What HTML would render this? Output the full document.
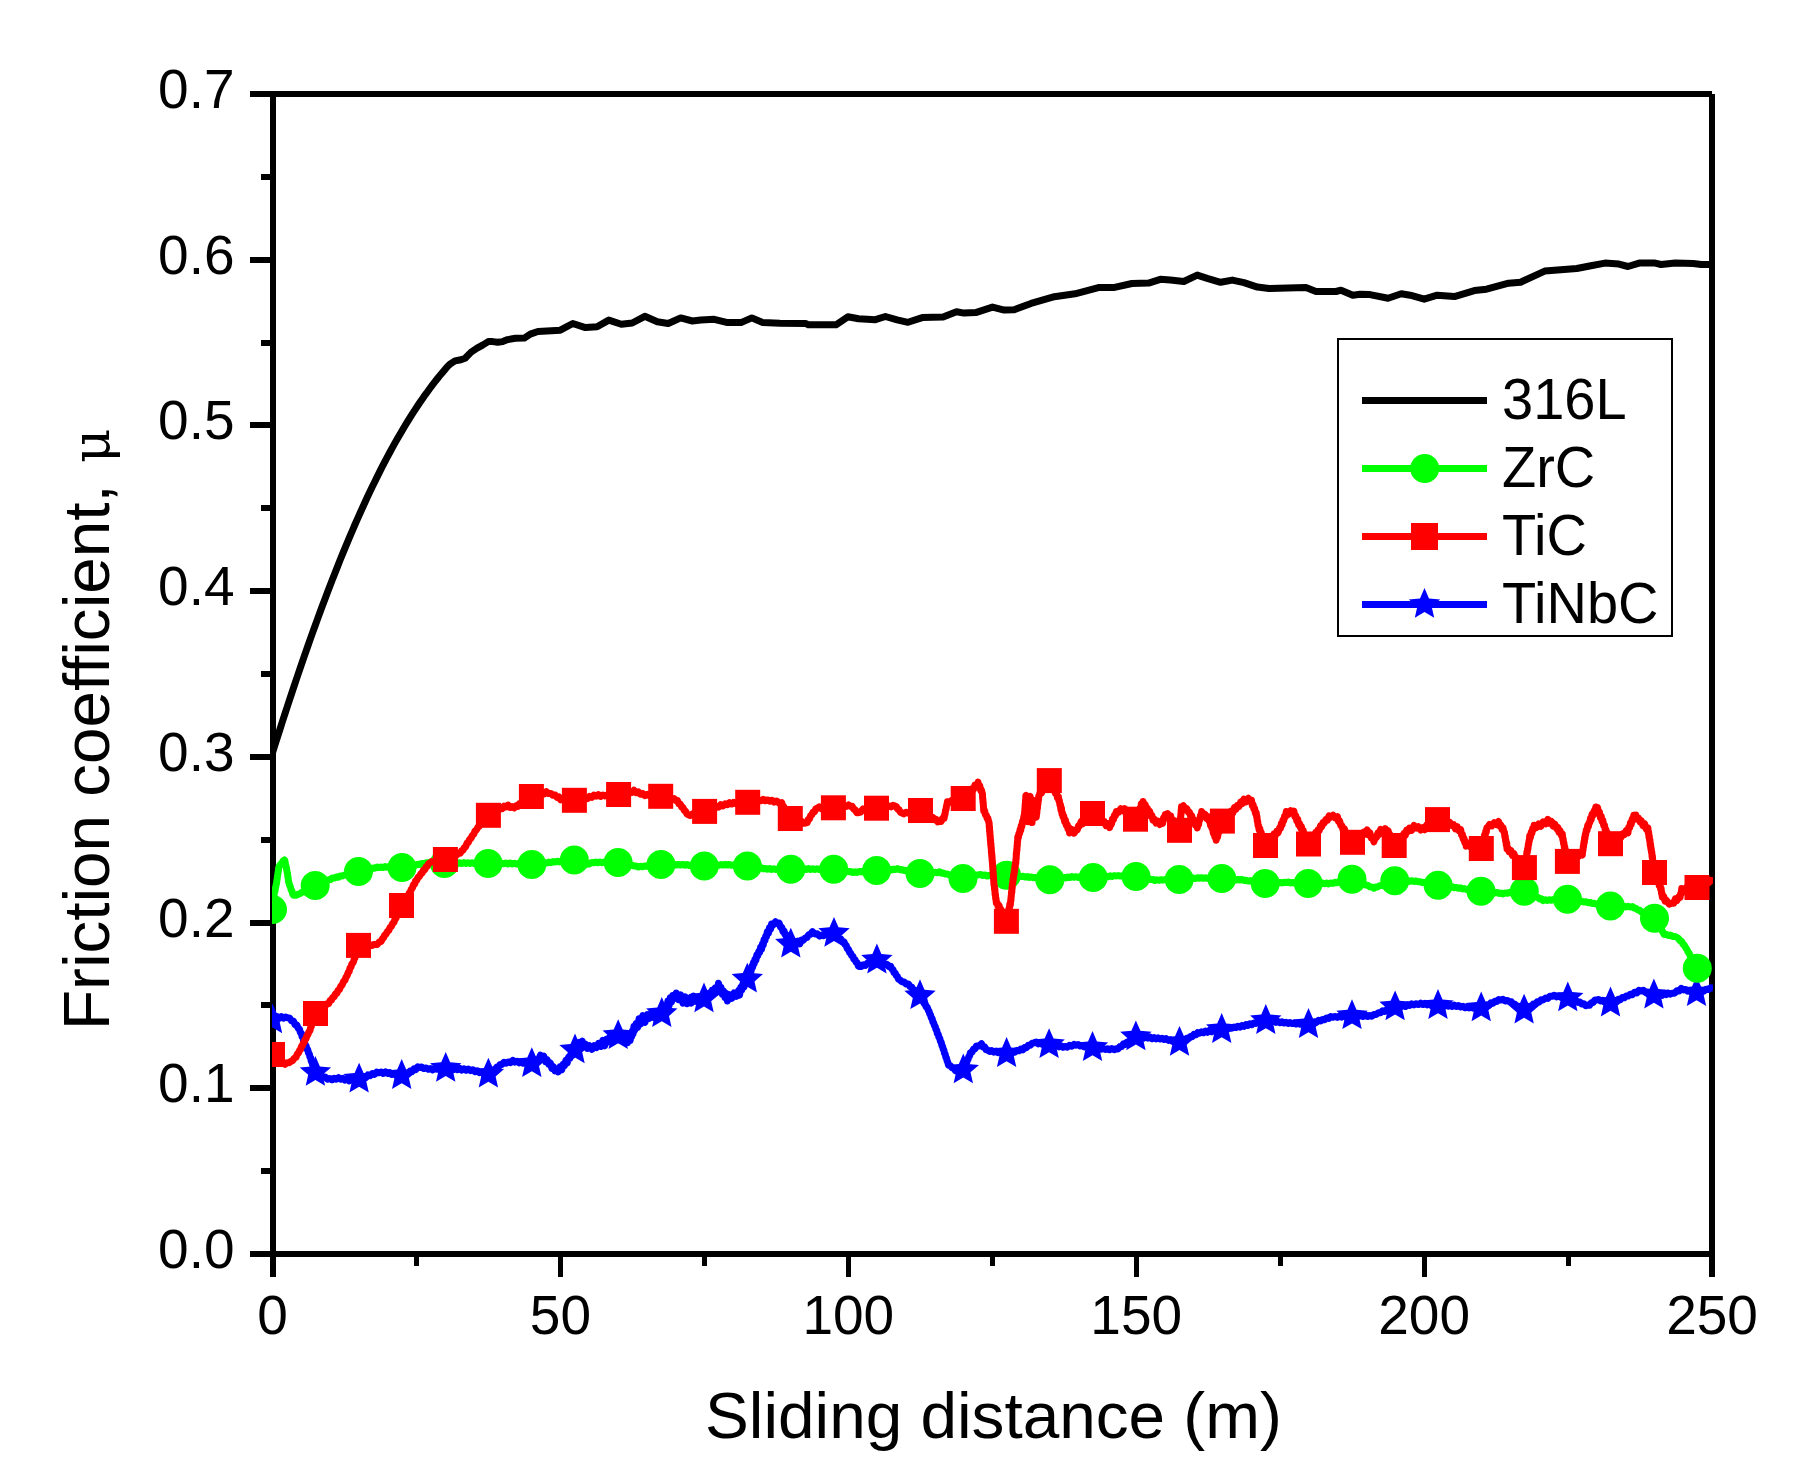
<!DOCTYPE html><html><head><meta charset="utf-8"><title>Friction coefficient vs sliding distance</title>
<style>html,body{margin:0;padding:0;background:#fff;}svg{display:block;}</style></head><body>
<svg width="1793" height="1484" viewBox="0 0 1793 1484">
<rect x="0" y="0" width="1793" height="1484" fill="#fff"/>
<defs><clipPath id="pc"><rect x="272" y="90" width="1441" height="1168"/></clipPath></defs>
<g fill="#000" shape-rendering="crispEdges">
<rect x="270" y="91" width="6" height="1186"/>
<rect x="250" y="91" width="1462" height="6"/>
<rect x="1709" y="94" width="6" height="1163"/>
<rect x="250" y="1251" width="1465" height="6"/>
<rect x="261" y="1168" width="11" height="6"/>
<rect x="250" y="1085" width="22" height="6"/>
<rect x="261" y="1002" width="11" height="6"/>
<rect x="250" y="920" width="22" height="6"/>
<rect x="261" y="837" width="11" height="6"/>
<rect x="250" y="754" width="22" height="6"/>
<rect x="261" y="671" width="11" height="6"/>
<rect x="250" y="588" width="22" height="6"/>
<rect x="261" y="505" width="11" height="6"/>
<rect x="250" y="422" width="22" height="6"/>
<rect x="261" y="340" width="11" height="6"/>
<rect x="250" y="257" width="22" height="6"/>
<rect x="261" y="174" width="11" height="6"/>
<rect x="414" y="1255" width="5" height="11"/>
<rect x="558" y="1255" width="5" height="22"/>
<rect x="702" y="1255" width="5" height="11"/>
<rect x="846" y="1255" width="5" height="22"/>
<rect x="990" y="1255" width="5" height="11"/>
<rect x="1134" y="1255" width="5" height="22"/>
<rect x="1278" y="1255" width="5" height="11"/>
<rect x="1422" y="1255" width="5" height="22"/>
<rect x="1566" y="1255" width="5" height="11"/>
<rect x="1709" y="1255" width="6" height="22"/>
</g>
<g font-family="Liberation Sans, Arial, sans-serif" font-size="55" fill="#000">
<text transform="translate(234.5 1268) scale(1 1.026)" text-anchor="end">0.0</text>
<text transform="translate(234.5 1102) scale(1 1.026)" text-anchor="end">0.1</text>
<text transform="translate(234.5 937) scale(1 1.026)" text-anchor="end">0.2</text>
<text transform="translate(234.5 771) scale(1 1.026)" text-anchor="end">0.3</text>
<text transform="translate(234.5 605) scale(1 1.026)" text-anchor="end">0.4</text>
<text transform="translate(234.5 439) scale(1 1.026)" text-anchor="end">0.5</text>
<text transform="translate(234.5 274) scale(1 1.026)" text-anchor="end">0.6</text>
<text transform="translate(234.5 108) scale(1 1.026)" text-anchor="end">0.7</text>
<text transform="translate(272.5 1334) scale(1 1.026)" text-anchor="middle">0</text>
<text transform="translate(560.4 1334) scale(1 1.026)" text-anchor="middle">50</text>
<text transform="translate(848.3 1334) scale(1 1.026)" text-anchor="middle">100</text>
<text transform="translate(1136.2 1334) scale(1 1.026)" text-anchor="middle">150</text>
<text transform="translate(1424.1 1334) scale(1 1.026)" text-anchor="middle">200</text>
<text transform="translate(1712.0 1334) scale(1 1.026)" text-anchor="middle">250</text>
</g>
<text x="705" y="1438" font-family="Liberation Sans, Arial, sans-serif" font-size="65.7" fill="#000">Sliding distance (m)</text>
<text transform="translate(109 1030) rotate(-90)" font-family="Liberation Sans, Arial, sans-serif" font-size="65.6" fill="#000">Friction coefficient,</text>
<text transform="translate(109 463) rotate(-90)" font-family="DejaVu Serif, Liberation Serif, serif" font-size="53" fill="#000">μ</text>
<g clip-path="url(#pc)" fill="none" stroke-linejoin="round" stroke-linecap="butt">
<polyline stroke="#000" stroke-width="7" points="272.5,752.7 275.0,744.8 277.5,736.9 280.0,729.1 282.5,721.3 285.0,713.7 287.5,706.0 290.0,698.4 292.5,690.9 295.0,683.4 297.5,676.0 300.0,668.7 302.5,661.4 305.0,654.2 307.5,647.0 310.0,639.9 312.5,632.9 315.0,626.0 317.5,619.1 320.0,612.3 322.5,605.5 325.0,598.9 327.5,592.2 330.0,585.7 332.5,579.3 335.0,572.9 337.5,566.6 340.0,560.3 342.5,554.2 345.0,548.1 347.5,542.1 350.0,536.1 352.5,530.3 355.0,524.5 357.5,518.8 360.0,513.2 362.5,507.7 365.0,502.2 367.5,496.8 370.0,491.5 372.5,486.3 375.0,481.2 377.5,476.1 380.0,471.1 382.5,466.2 385.0,461.4 387.5,456.7 390.0,452.0 392.5,447.4 395.0,442.9 397.5,438.5 400.0,434.2 402.5,429.9 405.0,425.7 407.5,421.6 410.0,417.6 412.5,413.7 415.0,409.8 417.5,406.0 420.0,402.3 422.5,398.7 425.0,395.1 427.5,391.7 430.0,388.3 432.5,384.9 435.0,381.7 437.5,378.5 440.0,375.4 442.5,372.4 445.0,369.4 447.5,366.5 450.0,364.2 455.0,360.9 461.0,359.7 465.1,358.2 471.1,352.1 477.1,348.1 482.6,345.1 488.2,341.6 492.7,341.6 497.7,342.3 502.7,341.6 507.7,339.6 515.3,338.3 524.3,338.1 530.3,334.1 537.9,331.5 546.9,331.0 560.3,330.2 572.8,323.5 585.4,327.6 597.1,326.8 608.8,320.1 621.3,324.3 632.2,323.0 644.8,316.3 657.3,321.8 668.2,323.5 680.7,317.9 692.4,321.0 700.8,320.1 714.2,319.3 727.6,322.6 741.0,322.6 751.8,317.9 762.7,322.6 780.0,323.2 805.9,323.5 808.4,324.8 836.0,324.8 847.8,316.8 858.6,318.8 875.4,319.7 885.4,316.5 897.1,319.8 908.0,322.3 922.2,317.6 943.1,317.1 956.5,311.8 964.0,313.1 975.7,312.6 992.5,307.1 1004.2,310.1 1014.2,309.8 1031.0,303.4 1054.4,296.7 1075.0,293.8 1098.4,287.6 1113.5,287.6 1131.9,283.5 1148.6,283.1 1160.3,279.3 1170.4,280.1 1183.8,281.5 1197.2,275.1 1207.2,278.4 1220.6,282.3 1232.3,280.1 1244.0,282.6 1257.4,287.1 1269.1,288.5 1287.5,288.1 1305.9,287.6 1316.0,291.5 1336.0,291.5 1341.0,290.2 1352.8,295.2 1360.0,294.2 1370.0,294.6 1388.1,298.2 1401.2,293.8 1410.2,295.2 1424.2,299.2 1437.3,295.2 1454.4,296.6 1474.4,290.6 1486.5,289.2 1508.6,283.2 1520.6,282.2 1544.7,271.1 1560.8,269.7 1576.8,268.5 1590.9,265.7 1604.9,263.1 1619.0,264.1 1628.0,266.5 1639.1,263.1 1655.1,263.1 1661.1,264.5 1675.2,263.1 1693.3,263.5 1701.3,264.5 1713.0,264.5"/>
<polyline stroke="#00f" stroke-width="7" points="272.5,1019.9 274.9,1019.2 277.2,1016.7 279.3,1018.0 281.3,1016.6 283.4,1018.2 285.4,1017.0 287.5,1017.8 289.5,1017.9 291.5,1020.8 293.5,1021.2 295.1,1024.7 296.8,1025.0 298.4,1028.6 299.4,1029.0 300.4,1032.6 301.4,1033.3 302.1,1036.7 302.9,1037.1 303.6,1040.9 304.4,1041.5 305.2,1045.1 306.1,1045.9 306.9,1049.3 307.7,1049.6 308.5,1053.0 309.3,1054.0 310.0,1057.3 310.7,1057.7 311.3,1061.3 312.0,1061.5 312.7,1065.3 313.4,1065.5 314.0,1069.1 314.7,1069.6 315.4,1073.2 317.2,1072.6 319.1,1075.5 320.9,1075.1 322.8,1077.1 325.1,1076.9 327.5,1079.3 329.8,1078.5 332.0,1079.8 334.2,1078.2 336.4,1079.2 338.6,1077.7 340.7,1079.3 342.8,1078.3 344.9,1080.1 347.0,1078.8 349.1,1080.9 351.1,1079.0 353.1,1080.7 355.1,1078.6 357.1,1080.2 359.1,1078.7 361.3,1079.2 363.5,1076.5 365.7,1077.5 367.9,1074.9 370.1,1075.6 372.3,1073.6 374.5,1074.4 376.7,1072.1 378.9,1072.8 381.1,1072.0 383.3,1073.5 385.5,1071.8 387.7,1073.5 389.7,1072.5 391.7,1074.4 393.7,1073.6 395.7,1075.1 397.7,1074.0 399.7,1076.2 401.7,1075.2 403.9,1075.4 406.1,1073.2 408.3,1073.4 410.2,1071.1 412.0,1071.7 413.9,1068.8 415.8,1069.6 417.6,1066.9 419.5,1067.6 421.7,1067.0 423.9,1068.6 426.2,1067.9 428.4,1069.3 430.6,1068.6 432.8,1069.9 434.9,1068.5 437.1,1069.3 439.2,1067.8 441.4,1069.2 443.5,1067.5 445.7,1069.3 447.7,1067.9 449.7,1069.3 451.7,1068.0 453.7,1069.6 455.7,1068.1 457.7,1069.7 459.7,1068.3 461.7,1070.2 463.9,1068.7 466.2,1070.3 468.4,1069.0 470.7,1070.6 472.9,1069.7 475.1,1071.8 477.3,1070.7 479.5,1072.7 481.8,1072.1 484.0,1073.7 486.2,1072.9 488.4,1074.6 490.1,1072.1 491.8,1072.4 493.4,1069.8 495.1,1069.7 496.8,1067.0 498.4,1067.1 500.1,1064.4 501.8,1064.5 504.0,1062.4 506.2,1063.2 508.5,1061.9 510.7,1062.7 512.9,1060.4 515.0,1062.2 517.1,1061.2 519.2,1062.9 521.3,1061.8 523.4,1063.3 525.5,1062.3 527.6,1063.8 529.7,1062.7 531.8,1064.3 533.5,1061.8 535.3,1062.0 537.0,1059.4 538.7,1059.2 540.5,1055.1 542.2,1057.4 543.8,1056.3 545.4,1061.6 547.1,1059.8 548.7,1064.2 550.3,1063.0 551.8,1068.3 553.3,1066.6 554.9,1070.8 556.4,1069.3 558.2,1071.9 560.0,1066.9 561.8,1069.7 563.1,1064.4 564.5,1065.5 565.9,1060.3 567.2,1062.9 568.5,1057.2 569.8,1058.4 571.1,1054.1 572.4,1055.3 573.7,1050.5 575.0,1052.2 576.4,1045.7 577.8,1047.2 579.2,1042.4 580.6,1044.0 582.3,1041.2 584.0,1046.7 585.7,1044.3 587.4,1048.4 589.6,1045.8 591.9,1049.4 594.1,1045.8 596.4,1047.6 598.6,1043.3 600.9,1046.4 602.8,1040.3 604.7,1045.8 606.7,1039.1 608.6,1041.8 610.5,1035.4 612.4,1042.1 614.4,1033.5 616.3,1039.2 618.2,1031.8 620.1,1040.3 622.0,1035.1 623.9,1041.4 625.7,1035.2 627.6,1042.7 629.5,1037.5 630.2,1040.7 631.0,1034.1 631.7,1036.7 632.4,1030.9 633.1,1033.8 633.9,1026.6 634.6,1030.5 636.1,1023.6 637.6,1027.4 639.1,1018.7 640.6,1024.1 642.8,1015.6 645.0,1022.3 647.3,1014.6 649.5,1018.3 651.7,1012.4 653.7,1017.4 655.7,1012.6 657.8,1017.7 659.8,1011.2 661.8,1016.2 663.0,1008.0 664.2,1013.1 665.5,1005.8 666.7,1008.7 667.9,1001.0 669.1,1005.7 670.3,997.7 671.6,1001.8 672.8,995.5 674.0,998.7 676.2,993.1 678.4,999.6 680.7,995.0 682.9,1003.2 685.1,996.8 687.2,1003.7 689.3,998.4 691.4,1003.0 693.5,996.1 695.6,1001.3 697.7,997.2 699.8,1001.5 701.9,996.3 704.0,1001.6 705.6,994.9 707.2,999.8 708.8,993.4 710.4,995.4 712.1,990.4 713.7,992.8 715.3,987.8 716.9,992.2 718.5,983.2 719.8,990.3 721.0,987.3 722.3,994.0 723.6,990.9 724.9,997.3 726.1,993.3 727.4,1001.0 729.6,994.7 731.8,998.3 734.1,993.0 736.3,996.4 738.5,990.7 739.6,995.1 740.7,987.5 741.8,990.0 742.9,984.4 744.0,987.1 745.1,981.3 746.2,982.7 747.3,977.9 748.1,979.1 748.8,973.9 749.6,974.9 750.3,970.5 751.1,971.3 751.9,966.4 752.6,967.5 753.4,962.7 754.1,963.8 754.9,959.5 755.9,960.1 756.8,955.1 757.8,955.7 758.7,951.6 759.7,952.3 760.6,947.3 761.6,949.1 762.4,944.0 763.2,945.2 764.0,939.7 764.9,940.6 765.7,936.2 766.5,936.6 767.3,931.9 768.4,933.3 769.5,927.8 770.5,929.4 771.6,924.0 772.7,925.3 775.4,921.8 778.0,923.9 779.2,923.2 780.5,927.3 781.8,927.3 783.0,931.7 784.0,930.9 785.0,934.5 785.9,934.4 786.9,939.0 787.9,937.9 788.8,941.5 789.8,940.6 790.8,945.1 793.2,942.0 795.6,945.0 798.0,941.2 799.8,943.8 801.5,940.1 803.2,940.3 805.0,938.1 806.9,937.5 808.8,934.6 810.6,934.3 812.5,931.6 814.8,933.9 817.2,933.8 819.5,936.1 821.6,935.0 823.6,935.7 825.7,934.1 827.8,934.9 829.9,933.7 831.9,934.2 834.0,932.8 835.7,935.6 837.3,935.9 839.0,938.4 840.7,938.9 842.3,941.4 844.0,941.9 845.1,944.6 846.2,945.5 847.3,948.7 848.4,949.3 849.5,952.3 850.6,953.1 851.7,955.8 852.8,956.2 853.9,959.2 855.0,959.6 856.2,962.4 857.3,962.9 858.4,966.0 859.5,966.5 861.4,966.5 863.4,964.7 865.3,965.4 867.2,963.3 869.2,963.7 871.1,961.7 873.0,962.0 875.0,960.4 876.9,960.5 878.9,960.5 880.8,962.5 882.8,962.6 884.8,964.6 886.8,964.2 888.7,966.4 890.7,966.2 891.8,969.1 892.9,969.5 894.0,972.5 895.2,973.1 896.3,975.6 897.4,976.5 898.5,979.1 899.6,979.7 901.8,981.7 904.0,982.0 906.3,984.0 908.5,984.0 910.1,986.7 911.8,987.1 913.4,990.0 915.1,990.4 916.7,993.2 918.4,993.5 920.0,996.5 921.0,997.0 922.0,999.8 923.1,1000.3 924.1,1003.5 925.1,1004.0 926.2,1006.9 927.2,1007.2 928.2,1010.2 929.0,1011.2 929.8,1014.0 930.5,1014.8 931.3,1018.0 932.1,1018.5 932.9,1022.0 933.6,1022.7 934.4,1025.5 935.2,1026.6 935.9,1029.4 936.7,1030.3 937.4,1033.7 938.2,1034.2 938.9,1037.3 939.7,1038.1 940.4,1041.3 941.2,1042.3 941.9,1045.5 942.6,1046.4 943.2,1049.2 943.9,1050.1 944.5,1053.3 945.2,1054.3 945.9,1057.4 946.5,1058.2 947.2,1061.1 947.8,1062.3 948.5,1065.3 950.3,1065.6 952.1,1067.9 953.8,1068.2 955.6,1070.9 957.4,1071.0 959.4,1071.6 961.3,1070.1 963.3,1070.5 964.1,1067.4 964.9,1066.7 965.7,1063.6 966.5,1063.5 967.2,1060.4 968.0,1059.8 968.8,1056.5 969.6,1056.0 970.4,1052.6 971.9,1052.2 973.4,1049.3 974.9,1049.1 976.4,1045.9 979.0,1046.1 981.5,1043.7 983.0,1046.9 984.5,1046.7 986.0,1049.6 987.5,1050.0 989.6,1051.4 991.7,1050.6 993.9,1052.2 996.0,1051.1 998.1,1052.8 1000.2,1052.1 1002.4,1053.6 1004.5,1052.5 1006.6,1054.1 1008.6,1052.2 1010.6,1053.2 1012.7,1051.5 1014.7,1052.3 1016.7,1050.4 1018.8,1050.8 1020.8,1049.0 1022.8,1049.9 1024.7,1047.4 1026.5,1047.7 1028.4,1045.2 1030.3,1045.3 1032.1,1043.2 1034.0,1042.9 1036.2,1042.1 1038.3,1043.9 1040.5,1042.8 1042.6,1044.5 1044.8,1043.5 1046.9,1044.9 1049.1,1044.1 1051.1,1045.8 1053.1,1044.9 1055.1,1046.2 1057.1,1045.4 1059.1,1046.9 1061.1,1045.9 1063.1,1047.3 1065.1,1046.4 1067.3,1047.2 1069.5,1045.3 1071.8,1046.2 1074.0,1044.4 1076.2,1045.2 1078.2,1044.6 1080.3,1045.9 1082.3,1045.4 1084.3,1047.0 1086.4,1045.8 1088.4,1047.4 1090.5,1046.8 1092.5,1048.2 1094.6,1047.1 1096.8,1048.9 1098.9,1047.5 1101.0,1049.2 1103.1,1048.3 1105.3,1049.5 1107.4,1048.7 1109.6,1049.8 1111.8,1048.5 1114.1,1049.7 1116.3,1048.7 1118.1,1048.9 1119.9,1046.6 1121.6,1046.6 1123.4,1043.9 1125.2,1044.5 1127.0,1041.9 1128.8,1042.0 1130.6,1039.6 1132.3,1039.8 1134.1,1037.1 1135.9,1037.6 1137.9,1036.5 1139.9,1038.0 1142.0,1036.7 1144.0,1038.1 1146.0,1036.8 1148.0,1038.1 1150.1,1037.1 1152.1,1038.7 1154.1,1037.5 1156.1,1038.9 1158.1,1037.9 1160.1,1039.1 1162.1,1038.2 1164.1,1039.4 1166.1,1038.6 1168.3,1040.4 1170.6,1039.7 1172.8,1041.5 1175.0,1040.5 1177.3,1042.7 1179.5,1042.0 1181.3,1042.3 1183.1,1039.9 1185.0,1040.1 1186.8,1038.2 1188.6,1038.4 1190.4,1036.6 1192.2,1036.8 1194.0,1034.3 1195.9,1034.8 1197.7,1032.6 1199.5,1033.2 1201.5,1031.8 1203.5,1032.8 1205.6,1031.0 1207.6,1032.3 1209.6,1030.4 1211.6,1031.7 1213.6,1030.1 1215.6,1031.2 1217.7,1029.3 1219.7,1030.7 1221.7,1029.0 1223.7,1030.0 1225.8,1028.3 1227.8,1029.0 1229.8,1027.8 1231.8,1028.3 1233.9,1027.1 1235.9,1027.6 1237.9,1026.2 1239.9,1027.2 1242.0,1025.5 1244.0,1026.4 1246.0,1024.6 1248.0,1025.4 1249.9,1023.8 1251.9,1024.7 1253.9,1022.9 1255.9,1023.4 1257.9,1021.6 1259.9,1022.8 1261.8,1021.0 1263.8,1021.6 1265.8,1020.0 1267.8,1021.5 1269.8,1020.5 1271.9,1021.6 1273.9,1021.0 1275.9,1022.4 1277.9,1021.4 1280.0,1022.7 1282.0,1021.8 1284.0,1023.0 1286.0,1022.2 1288.1,1023.4 1290.1,1022.6 1292.2,1023.6 1294.2,1023.0 1296.2,1024.0 1298.3,1023.1 1300.3,1024.3 1302.4,1023.7 1304.4,1024.9 1306.5,1023.8 1308.5,1025.3 1310.5,1023.5 1312.6,1023.8 1314.6,1022.0 1316.6,1022.2 1318.6,1020.3 1320.7,1020.9 1322.7,1019.4 1324.7,1019.7 1326.7,1017.9 1328.8,1018.4 1330.8,1016.5 1333.0,1017.3 1335.1,1016.4 1337.3,1017.4 1339.5,1016.0 1341.7,1017.2 1343.8,1015.7 1346.0,1017.0 1348.2,1015.5 1350.3,1016.4 1352.5,1015.3 1354.6,1016.6 1356.8,1015.1 1358.9,1016.3 1361.0,1015.4 1363.2,1016.5 1365.3,1014.9 1367.4,1016.5 1369.6,1015.4 1371.7,1016.2 1373.9,1014.5 1376.1,1014.5 1378.4,1012.8 1380.6,1012.7 1382.8,1010.7 1384.8,1011.5 1386.9,1009.4 1388.9,1010.0 1391.0,1007.8 1393.0,1008.4 1395.1,1006.0 1397.2,1007.5 1399.2,1006.0 1401.3,1006.6 1403.4,1005.1 1405.5,1006.4 1407.5,1004.8 1409.6,1005.5 1411.7,1003.9 1413.9,1004.9 1416.2,1003.7 1418.4,1004.6 1420.7,1003.1 1422.9,1004.5 1425.1,1003.4 1427.2,1004.9 1429.4,1003.7 1431.5,1005.6 1433.7,1004.4 1435.8,1006.2 1438.0,1005.0 1440.0,1006.2 1442.0,1005.2 1444.1,1006.4 1446.1,1005.1 1448.1,1006.2 1450.1,1005.3 1452.2,1006.5 1454.2,1005.1 1456.2,1006.5 1458.4,1005.5 1460.7,1007.0 1462.9,1006.3 1465.1,1007.7 1467.1,1006.8 1469.1,1007.9 1471.1,1006.6 1473.2,1008.2 1475.2,1007.2 1477.2,1008.2 1479.2,1007.1 1481.2,1008.7 1483.2,1006.3 1485.1,1007.1 1487.0,1004.8 1489.0,1005.3 1491.0,1002.8 1492.9,1003.3 1494.9,1001.3 1496.8,1001.4 1498.8,999.5 1500.7,1000.1 1502.9,999.3 1505.2,1001.0 1507.4,1000.4 1509.6,1001.8 1511.4,1001.8 1513.2,1004.1 1515.0,1004.3 1516.8,1006.2 1518.7,1006.2 1520.5,1008.7 1522.3,1008.7 1524.1,1010.7 1526.0,1008.2 1527.9,1008.5 1529.8,1006.2 1531.7,1006.4 1533.5,1003.9 1535.4,1004.3 1537.3,1001.7 1539.2,1002.0 1541.1,999.8 1543.3,999.9 1545.5,998.1 1547.8,998.4 1550.0,996.3 1552.2,996.2 1554.4,995.2 1556.7,996.9 1558.9,995.9 1561.1,997.5 1563.3,996.8 1565.6,998.2 1567.8,997.2 1569.8,999.5 1571.8,998.9 1573.8,1001.1 1575.8,1000.3 1577.8,1002.4 1579.8,1002.0 1581.8,1004.1 1583.8,1003.8 1585.8,1005.8 1587.8,1005.1 1589.6,1005.3 1591.4,1002.7 1593.1,1002.5 1594.9,999.9 1596.7,1000.0 1598.7,999.4 1600.6,1000.9 1602.6,1000.2 1604.6,1001.8 1606.6,1001.3 1608.5,1003.3 1610.5,1002.5 1612.5,1003.0 1614.4,1000.7 1616.4,1001.1 1618.3,999.2 1620.3,999.8 1622.3,997.5 1624.2,997.8 1626.2,996.0 1628.1,996.0 1630.1,994.3 1632.3,994.7 1634.5,992.2 1636.8,992.9 1639.0,990.3 1641.2,991.0 1643.3,990.2 1645.4,992.5 1647.6,992.1 1649.7,994.4 1651.8,993.5 1653.9,996.0 1656.0,994.3 1658.0,995.5 1660.1,994.0 1662.1,995.3 1664.2,993.4 1666.2,994.6 1668.3,993.1 1670.3,994.2 1672.4,993.2 1674.6,993.2 1676.8,990.8 1679.1,990.9 1681.3,988.4 1683.5,990.0 1685.6,989.4 1687.8,991.2 1690.0,990.6 1692.2,992.2 1694.3,991.4 1696.5,993.5 1698.4,991.6 1700.3,991.9 1702.2,990.4 1704.2,990.9 1706.1,989.3 1708.0,989.5 1710.5,987.8 1713.0,988.0"/>
<g fill="#00f" stroke="none"><polygon points="272.5,1003.4 277.0,1013.8 288.2,1014.8 279.7,1022.2 282.2,1033.2 272.5,1027.5 262.8,1033.2 265.3,1022.2 256.8,1014.8 268.0,1013.8"/><polygon points="315.4,1056.0 319.9,1066.4 331.1,1067.4 322.6,1074.8 325.1,1085.8 315.4,1080.1 305.7,1085.8 308.2,1074.8 299.7,1067.4 310.9,1066.4"/><polygon points="359.1,1062.7 363.6,1073.1 374.8,1074.1 366.3,1081.5 368.8,1092.5 359.1,1086.8 349.4,1092.5 351.9,1081.5 343.4,1074.1 354.6,1073.1"/><polygon points="401.7,1059.1 406.2,1069.5 417.4,1070.5 408.9,1077.9 411.4,1088.9 401.7,1083.2 392.0,1088.9 394.5,1077.9 386.0,1070.5 397.2,1069.5"/><polygon points="445.7,1051.9 450.2,1062.3 461.4,1063.3 452.9,1070.7 455.4,1081.7 445.7,1076.0 436.0,1081.7 438.5,1070.7 430.0,1063.3 441.2,1062.3"/><polygon points="488.4,1057.7 492.9,1068.1 504.1,1069.1 495.6,1076.5 498.1,1087.5 488.4,1081.8 478.7,1087.5 481.2,1076.5 472.7,1069.1 483.9,1068.1"/><polygon points="531.8,1047.2 536.3,1057.6 547.5,1058.6 539.0,1066.0 541.5,1077.0 531.8,1071.3 522.1,1077.0 524.6,1066.0 516.1,1058.6 527.3,1057.6"/><polygon points="575.0,1033.5 579.5,1043.9 590.7,1044.9 582.2,1052.3 584.7,1063.3 575.0,1057.6 565.3,1063.3 567.8,1052.3 559.3,1044.9 570.5,1043.9"/><polygon points="618.2,1019.2 622.7,1029.6 633.9,1030.6 625.4,1038.0 627.9,1049.0 618.2,1043.3 608.5,1049.0 611.0,1038.0 602.5,1030.6 613.7,1029.6"/><polygon points="661.8,997.1 666.3,1007.5 677.5,1008.5 669.0,1015.9 671.5,1026.9 661.8,1021.2 652.1,1026.9 654.6,1015.9 646.1,1008.5 657.3,1007.5"/><polygon points="704.0,982.5 708.5,992.9 719.7,993.9 711.2,1001.3 713.7,1012.3 704.0,1006.6 694.3,1012.3 696.8,1001.3 688.3,993.9 699.5,992.9"/><polygon points="747.3,962.7 751.8,973.1 763.0,974.1 754.5,981.5 757.0,992.5 747.3,986.8 737.6,992.5 740.1,981.5 731.6,974.1 742.8,973.1"/><polygon points="790.8,927.7 795.3,938.1 806.5,939.1 798.0,946.5 800.5,957.5 790.8,951.8 781.1,957.5 783.6,946.5 775.1,939.1 786.3,938.1"/><polygon points="834.0,916.9 838.5,927.3 849.7,928.3 841.2,935.7 843.7,946.7 834.0,941.0 824.3,946.7 826.8,935.7 818.3,928.3 829.5,927.3"/><polygon points="876.9,943.6 881.4,954.0 892.6,955.0 884.1,962.4 886.6,973.4 876.9,967.7 867.2,973.4 869.7,962.4 861.2,955.0 872.4,954.0"/><polygon points="920.0,979.3 924.5,989.7 935.7,990.7 927.2,998.1 929.7,1009.1 920.0,1003.4 910.3,1009.1 912.8,998.1 904.3,990.7 915.5,989.7"/><polygon points="963.3,1053.5 967.8,1063.9 979.0,1064.9 970.5,1072.3 973.0,1083.3 963.3,1077.6 953.6,1083.3 956.1,1072.3 947.6,1064.9 958.8,1063.9"/><polygon points="1006.6,1037.1 1011.1,1047.5 1022.3,1048.5 1013.8,1055.9 1016.3,1066.9 1006.6,1061.2 996.9,1066.9 999.4,1055.9 990.9,1048.5 1002.1,1047.5"/><polygon points="1049.1,1028.2 1053.6,1038.6 1064.8,1039.6 1056.3,1047.0 1058.8,1058.0 1049.1,1052.3 1039.4,1058.0 1041.9,1047.0 1033.4,1039.6 1044.6,1038.6"/><polygon points="1092.5,1031.1 1097.0,1041.5 1108.2,1042.5 1099.7,1049.9 1102.2,1060.9 1092.5,1055.2 1082.8,1060.9 1085.3,1049.9 1076.8,1042.5 1088.0,1041.5"/><polygon points="1135.9,1020.4 1140.4,1030.8 1151.6,1031.8 1143.1,1039.2 1145.6,1050.2 1135.9,1044.5 1126.2,1050.2 1128.7,1039.2 1120.2,1031.8 1131.4,1030.8"/><polygon points="1179.5,1025.9 1184.0,1036.3 1195.2,1037.3 1186.7,1044.7 1189.2,1055.7 1179.5,1050.0 1169.8,1055.7 1172.3,1044.7 1163.8,1037.3 1175.0,1036.3"/><polygon points="1221.7,1013.1 1226.2,1023.5 1237.4,1024.5 1228.9,1031.9 1231.4,1042.9 1221.7,1037.2 1212.0,1042.9 1214.5,1031.9 1206.0,1024.5 1217.2,1023.5"/><polygon points="1265.8,1004.1 1270.3,1014.5 1281.5,1015.5 1273.0,1022.9 1275.5,1033.9 1265.8,1028.2 1256.1,1033.9 1258.6,1022.9 1250.1,1015.5 1261.3,1014.5"/><polygon points="1308.5,1008.1 1313.0,1018.5 1324.2,1019.5 1315.7,1026.9 1318.2,1037.9 1308.5,1032.2 1298.8,1037.9 1301.3,1026.9 1292.8,1019.5 1304.0,1018.5"/><polygon points="1352.0,999.3 1356.5,1009.7 1367.7,1010.7 1359.2,1018.1 1361.7,1029.1 1352.0,1023.4 1342.3,1029.1 1344.8,1018.1 1336.3,1010.7 1347.5,1009.7"/><polygon points="1395.1,990.4 1399.6,1000.8 1410.8,1001.8 1402.3,1009.2 1404.8,1020.2 1395.1,1014.5 1385.4,1020.2 1387.9,1009.2 1379.4,1001.8 1390.6,1000.8"/><polygon points="1438.0,989.1 1442.5,999.5 1453.7,1000.5 1445.2,1007.9 1447.7,1018.9 1438.0,1013.2 1428.3,1018.9 1430.8,1007.9 1422.3,1000.5 1433.5,999.5"/><polygon points="1481.2,991.5 1485.7,1001.9 1496.9,1002.9 1488.4,1010.3 1490.9,1021.3 1481.2,1015.6 1471.5,1021.3 1474.0,1010.3 1465.5,1002.9 1476.7,1001.9"/><polygon points="1524.1,993.7 1528.6,1004.1 1539.8,1005.1 1531.3,1012.5 1533.8,1023.5 1524.1,1017.8 1514.4,1023.5 1516.9,1012.5 1508.4,1005.1 1519.6,1004.1"/><polygon points="1567.8,981.5 1572.3,991.9 1583.5,992.9 1575.0,1000.3 1577.5,1011.3 1567.8,1005.6 1558.1,1011.3 1560.6,1000.3 1552.1,992.9 1563.3,991.9"/><polygon points="1610.5,986.6 1615.0,997.0 1626.2,998.0 1617.7,1005.4 1620.2,1016.4 1610.5,1010.7 1600.8,1016.4 1603.3,1005.4 1594.8,998.0 1606.0,997.0"/><polygon points="1653.9,978.6 1658.4,989.0 1669.6,990.0 1661.1,997.4 1663.6,1008.4 1653.9,1002.7 1644.2,1008.4 1646.7,997.4 1638.2,990.0 1649.4,989.0"/><polygon points="1696.5,976.2 1701.0,986.6 1712.2,987.6 1703.7,995.0 1706.2,1006.0 1696.5,1000.3 1686.8,1006.0 1689.3,995.0 1680.8,987.6 1692.0,986.6"/></g>
<polyline stroke="#0f0" stroke-width="7" points="272.5,909.5 272.7,907.8 272.9,904.9 273.1,903.7 273.4,900.7 273.6,899.6 273.8,896.6 274.0,895.2 274.4,892.6 274.9,891.3 275.3,888.4 275.7,887.1 276.2,884.3 276.6,882.8 276.9,880.2 277.2,878.8 277.5,876.1 277.8,874.7 278.1,872.2 278.4,870.7 278.7,867.9 279.0,866.8 280.4,864.4 281.8,863.4 283.1,861.0 284.5,859.9 285.0,861.4 285.4,864.0 285.9,865.5 286.4,868.4 286.8,870.1 287.3,873.0 287.6,874.1 287.9,877.0 288.2,878.3 288.5,881.3 288.8,882.6 289.6,885.3 290.4,886.7 291.1,889.7 291.9,890.8 292.7,893.9 293.5,895.2 295.8,895.3 298.0,894.3 299.9,893.7 301.8,892.3 303.7,891.8 305.6,890.1 307.5,889.6 309.4,888.0 311.3,887.7 313.2,886.1 315.1,885.8 317.0,884.3 318.9,884.1 320.8,882.7 322.7,882.7 324.7,881.3 326.6,881.2 328.5,879.7 330.4,879.6 332.3,877.9 334.3,878.1 336.2,877.0 338.2,877.2 340.1,876.0 342.1,876.1 344.2,875.1 346.2,875.1 348.2,873.8 350.3,874.0 352.4,872.7 354.4,873.1 356.4,871.6 358.5,871.8 360.6,870.7 362.6,871.0 364.7,869.7 366.7,870.0 368.8,868.9 370.8,869.3 372.9,867.9 374.9,868.2 377.0,867.0 379.0,867.6 381.0,867.0 383.0,867.6 385.0,866.6 387.0,867.3 389.1,866.6 391.3,867.5 393.4,866.9 395.6,867.6 397.7,867.1 399.9,867.7 402.0,867.3 404.0,867.5 406.0,866.3 408.0,866.6 410.0,865.8 412.0,866.1 414.0,864.9 416.0,865.2 418.0,864.2 420.0,864.5 422.0,863.4 424.0,863.8 426.0,862.8 428.0,863.1 430.0,862.0 432.1,862.8 434.1,862.4 436.2,863.3 438.2,862.8 440.3,863.6 442.3,862.8 444.4,863.8 446.6,862.9 448.7,863.6 450.9,862.9 453.0,863.5 455.2,862.7 457.4,863.4 459.5,862.8 461.7,863.6 463.8,862.6 466.0,863.5 468.0,862.7 470.0,863.4 472.0,862.7 474.0,863.5 476.0,862.9 478.1,863.5 480.1,863.0 482.1,863.6 484.1,862.8 486.1,863.9 488.1,863.0 490.3,863.8 492.5,863.1 494.7,863.7 496.9,863.2 499.1,863.9 501.2,863.0 503.4,863.8 505.6,863.0 507.8,863.9 510.0,863.1 512.2,864.0 514.4,863.3 516.5,864.1 518.7,863.5 520.9,864.3 523.1,863.8 525.3,864.7 527.4,864.0 529.6,864.8 531.8,864.1 533.9,864.7 536.0,863.7 538.2,864.0 540.3,863.2 542.4,863.6 544.5,862.6 546.6,863.1 548.8,862.1 550.9,862.7 553.0,861.6 555.1,862.1 557.3,861.2 559.4,861.9 561.5,860.8 563.6,861.4 565.8,860.4 567.9,861.1 570.0,860.1 572.2,860.8 574.3,859.6 576.4,861.4 578.6,861.5 580.7,863.0 582.9,863.2 585.0,865.1 587.2,863.7 589.5,863.9 591.7,862.5 593.9,862.7 595.9,862.1 597.9,862.8 600.0,862.0 602.0,862.7 604.0,862.0 606.0,862.7 608.0,861.9 610.0,862.8 612.0,862.0 614.1,862.6 616.1,862.1 618.1,862.7 620.1,862.4 622.2,863.5 624.2,863.3 626.2,864.5 628.2,864.4 630.3,865.4 632.3,865.2 634.3,866.1 636.4,866.1 638.4,867.1 640.5,866.3 642.5,866.7 644.6,866.0 646.6,866.3 648.7,865.5 650.7,866.0 652.8,865.0 654.8,865.5 656.9,864.5 658.9,865.0 661.0,864.3 663.2,864.9 665.4,864.3 667.6,864.8 669.8,864.2 671.9,864.9 674.1,864.4 676.3,865.0 678.5,864.4 680.7,865.0 682.8,864.4 685.0,865.2 687.1,864.5 689.3,865.6 691.4,865.0 693.6,865.9 695.7,865.2 697.9,866.0 700.0,865.6 702.2,866.3 704.3,865.7 706.4,866.4 708.5,865.3 710.6,866.0 712.7,865.2 714.8,865.8 716.8,865.0 718.9,865.3 721.0,864.5 723.1,865.1 725.2,864.4 727.2,865.1 729.2,864.4 731.3,865.3 733.3,864.8 735.3,865.5 737.3,865.1 739.3,866.0 741.3,865.4 743.4,866.3 745.4,865.5 747.4,866.5 749.4,866.1 751.4,867.2 753.4,866.6 755.4,867.6 757.4,867.3 759.4,868.3 761.4,867.8 763.4,868.7 765.4,868.4 767.4,869.2 769.5,868.6 771.7,869.4 773.8,868.8 775.9,869.5 778.1,868.7 780.2,869.4 782.4,868.8 784.5,869.5 786.6,868.8 788.8,869.7 790.9,869.0 793.1,869.5 795.3,869.0 797.5,869.7 799.6,868.9 801.8,869.5 804.0,868.7 806.2,869.4 808.4,868.6 810.5,869.4 812.6,868.8 814.7,869.5 816.8,868.8 818.9,869.5 821.0,868.8 823.2,869.5 825.3,868.8 827.4,869.6 829.5,868.9 831.6,869.7 833.7,868.9 835.8,869.8 838.0,869.7 840.1,870.6 842.2,870.2 844.4,871.4 846.5,870.9 848.6,871.8 850.8,871.5 852.9,872.6 855.1,871.8 857.2,872.4 859.4,871.4 861.5,872.0 863.7,871.1 865.8,871.7 868.0,870.9 870.1,871.5 872.3,870.7 874.4,871.0 876.6,870.2 878.7,870.7 880.8,869.8 882.8,870.5 884.9,869.6 887.0,870.1 889.1,869.2 891.2,870.0 893.2,869.1 895.3,869.5 897.4,868.6 899.5,869.7 901.5,869.5 903.6,870.4 905.6,870.2 907.7,871.4 909.7,871.2 911.8,872.1 913.8,871.8 915.9,873.0 917.9,872.6 920.0,873.6 922.2,872.9 924.4,873.6 926.5,872.5 928.7,873.3 930.9,872.6 933.1,873.1 935.2,872.3 937.4,872.8 939.6,871.8 941.6,873.2 943.5,873.1 945.5,874.1 947.4,873.9 949.4,875.1 951.3,875.0 953.2,876.2 955.2,876.2 957.1,877.3 959.1,877.3 961.0,878.2 963.0,878.2 965.2,878.2 967.4,877.2 969.6,877.2 971.7,875.8 973.9,876.2 976.1,874.9 978.3,874.9 980.5,874.5 982.8,875.4 985.0,874.9 987.3,876.0 989.5,875.4 991.6,875.9 993.8,875.2 995.9,875.8 998.0,875.1 1000.1,875.8 1002.2,874.9 1004.4,875.7 1006.5,874.9 1008.6,875.7 1010.7,875.2 1012.7,876.0 1014.8,875.5 1016.9,876.4 1019.0,876.0 1021.1,876.6 1023.1,876.2 1025.2,877.1 1027.3,876.5 1029.4,877.5 1031.4,876.9 1033.5,877.8 1035.5,877.5 1037.6,878.4 1039.6,878.2 1041.7,879.1 1043.7,878.7 1045.8,879.7 1047.8,879.2 1049.9,880.1 1051.9,879.1 1053.9,879.5 1055.9,878.6 1057.9,878.9 1059.9,878.2 1061.8,878.6 1063.8,877.5 1065.8,877.9 1067.8,877.1 1069.8,877.6 1071.8,876.4 1073.9,877.3 1076.1,876.7 1078.2,877.4 1080.4,876.8 1082.5,877.5 1084.6,877.0 1086.8,877.7 1088.9,877.1 1091.1,877.8 1093.2,877.4 1095.3,877.9 1097.4,876.9 1099.5,877.5 1101.6,876.6 1103.7,877.2 1105.8,876.2 1107.9,876.8 1110.0,875.8 1112.1,876.5 1114.2,875.6 1116.3,875.9 1118.5,875.6 1120.7,876.1 1122.9,875.7 1125.1,876.5 1127.2,875.7 1129.4,876.6 1131.6,876.0 1133.8,876.7 1136.0,875.9 1138.1,877.2 1140.2,876.9 1142.3,878.0 1144.4,877.8 1146.6,878.7 1148.7,878.6 1150.8,879.6 1152.9,879.4 1155.0,880.6 1157.0,879.8 1159.0,880.3 1161.0,879.7 1163.1,880.1 1165.1,879.6 1167.1,880.1 1169.1,879.4 1171.1,879.9 1173.2,879.2 1175.2,879.9 1177.2,879.1 1179.2,879.9 1181.2,878.9 1183.3,879.5 1185.3,878.5 1187.3,879.1 1189.3,878.3 1191.4,878.8 1193.4,878.0 1195.4,878.6 1197.5,877.8 1199.5,878.2 1201.5,877.7 1203.6,878.3 1205.6,877.8 1207.6,878.4 1209.6,877.7 1211.7,878.5 1213.7,878.0 1215.7,878.7 1217.7,878.1 1219.8,878.9 1221.8,878.1 1223.8,878.9 1225.8,878.5 1227.9,879.3 1229.9,878.6 1231.9,879.6 1233.9,879.0 1235.9,880.0 1237.9,879.5 1240.0,880.0 1242.0,879.5 1244.0,880.4 1246.1,880.2 1248.2,881.1 1250.4,880.6 1252.5,881.8 1254.6,881.5 1256.7,882.4 1258.8,882.3 1261.0,883.3 1263.1,882.8 1265.2,884.0 1267.3,883.2 1269.4,883.6 1271.5,883.0 1273.6,883.4 1275.8,882.7 1277.9,883.1 1280.0,882.4 1282.1,882.9 1284.2,882.3 1286.3,882.6 1288.5,882.0 1290.7,882.9 1292.9,882.4 1295.1,883.2 1297.2,882.6 1299.4,883.3 1301.6,882.9 1303.8,883.5 1306.0,883.0 1308.2,884.0 1310.3,883.1 1312.3,884.0 1314.4,883.2 1316.4,883.7 1318.5,883.1 1320.5,883.8 1322.6,883.1 1324.6,883.8 1326.7,883.1 1328.7,883.9 1330.8,883.0 1332.9,883.4 1335.0,882.3 1337.2,882.7 1339.3,881.6 1341.4,881.7 1343.5,880.7 1345.6,880.9 1347.8,879.8 1349.9,880.3 1352.0,879.1 1354.0,880.4 1356.0,880.7 1358.0,882.0 1360.0,882.3 1362.0,883.6 1363.9,883.7 1365.9,885.1 1367.9,885.4 1369.9,886.8 1371.9,886.9 1373.9,888.2 1375.8,887.0 1377.7,886.9 1379.6,885.7 1381.5,885.6 1383.4,884.3 1385.3,884.4 1387.2,883.0 1389.1,883.1 1391.0,881.6 1392.9,881.8 1394.8,880.3 1396.9,881.1 1399.1,880.4 1401.2,881.2 1403.4,880.4 1405.5,881.4 1407.6,880.6 1409.8,881.3 1411.9,880.7 1414.1,881.5 1416.2,881.0 1418.2,881.8 1420.2,881.7 1422.2,882.6 1424.2,882.3 1426.2,883.3 1428.1,883.2 1430.1,884.2 1432.1,883.7 1434.1,884.7 1436.1,884.6 1438.1,885.4 1440.1,885.2 1442.2,886.2 1444.2,885.5 1446.3,886.7 1448.3,886.3 1450.3,887.1 1452.4,886.8 1454.4,887.7 1456.5,887.4 1458.5,888.3 1460.5,887.8 1462.6,888.9 1464.6,888.6 1466.7,889.5 1468.7,889.1 1470.8,890.1 1472.8,889.7 1474.9,890.8 1476.9,890.2 1479.0,891.1 1481.0,890.9 1483.0,891.9 1485.0,891.3 1487.0,892.2 1489.0,891.7 1491.0,892.7 1493.0,892.0 1495.0,893.0 1497.0,892.4 1499.0,893.5 1501.0,893.1 1503.0,893.9 1505.1,892.9 1507.3,893.3 1509.4,892.3 1511.5,892.8 1513.7,892.0 1515.8,892.5 1517.9,891.4 1520.0,892.0 1522.2,891.2 1524.3,891.5 1526.2,891.8 1528.1,893.4 1530.0,893.6 1531.9,895.2 1533.8,895.4 1535.7,896.9 1537.6,897.2 1539.5,898.9 1541.4,898.8 1543.3,900.7 1545.3,899.7 1547.3,900.4 1549.3,899.7 1551.4,900.3 1553.4,899.5 1555.4,900.0 1557.4,899.4 1559.4,899.8 1561.5,899.1 1563.5,899.9 1565.5,899.1 1567.5,899.7 1569.5,899.3 1571.6,900.3 1573.6,899.8 1575.6,900.9 1577.7,900.4 1579.7,901.5 1581.7,901.3 1583.7,902.1 1585.8,901.7 1587.8,902.7 1589.9,902.4 1591.9,903.4 1594.0,903.2 1596.0,904.0 1598.1,903.8 1600.1,904.8 1602.2,904.3 1604.2,905.4 1606.3,904.9 1608.3,906.2 1610.4,905.6 1612.6,906.6 1614.8,905.8 1617.0,906.7 1619.2,905.9 1621.3,906.8 1623.5,906.1 1625.7,907.0 1627.9,906.3 1630.1,907.0 1632.3,906.6 1634.1,908.0 1636.0,908.4 1637.8,910.0 1639.7,910.2 1641.5,912.0 1643.4,912.3 1645.2,914.0 1647.1,914.2 1649.0,915.8 1650.8,916.2 1652.7,917.8 1654.5,917.9 1655.6,920.5 1656.6,921.3 1657.7,923.9 1658.7,924.8 1659.8,927.4 1660.8,928.3 1661.9,930.7 1662.9,931.8 1664.0,934.4 1666.1,934.2 1668.3,935.5 1670.4,935.1 1672.6,936.4 1674.7,936.4 1676.9,937.4 1678.5,938.4 1680.1,940.7 1681.7,941.4 1683.1,944.3 1684.4,945.3 1685.8,947.9 1686.9,949.3 1687.9,951.8 1689.0,952.9 1690.1,955.6 1691.1,956.7 1692.2,959.4 1693.2,960.5 1694.3,963.0 1695.4,964.3 1696.4,966.8 1697.5,968.3"/>
<g fill="#0f0" stroke="none"><circle cx="272.5" cy="909.5" r="14.5"/><circle cx="315.2" cy="885.5" r="14.5"/><circle cx="358.5" cy="871.5" r="14.5"/><circle cx="402.0" cy="867.5" r="14.5"/><circle cx="444.4" cy="863.4" r="14.5"/><circle cx="488.1" cy="863.4" r="14.5"/><circle cx="531.8" cy="864.6" r="14.5"/><circle cx="574.3" cy="860.1" r="14.5"/><circle cx="618.1" cy="862.4" r="14.5"/><circle cx="661.0" cy="864.6" r="14.5"/><circle cx="704.3" cy="866.1" r="14.5"/><circle cx="747.4" cy="866.1" r="14.5"/><circle cx="790.9" cy="869.3" r="14.5"/><circle cx="833.7" cy="869.3" r="14.5"/><circle cx="876.6" cy="870.6" r="14.5"/><circle cx="920.0" cy="873.4" r="14.5"/><circle cx="963.0" cy="878.5" r="14.5"/><circle cx="1006.5" cy="875.3" r="14.5"/><circle cx="1049.9" cy="879.8" r="14.5"/><circle cx="1093.2" cy="877.6" r="14.5"/><circle cx="1136.0" cy="876.4" r="14.5"/><circle cx="1179.2" cy="879.5" r="14.5"/><circle cx="1221.8" cy="878.5" r="14.5"/><circle cx="1265.2" cy="883.5" r="14.5"/><circle cx="1308.2" cy="883.5" r="14.5"/><circle cx="1352.0" cy="879.3" r="14.5"/><circle cx="1394.8" cy="880.7" r="14.5"/><circle cx="1438.1" cy="885.2" r="14.5"/><circle cx="1481.0" cy="891.2" r="14.5"/><circle cx="1524.3" cy="891.2" r="14.5"/><circle cx="1567.5" cy="899.3" r="14.5"/><circle cx="1610.4" cy="906.1" r="14.5"/><circle cx="1654.5" cy="918.3" r="14.5"/><circle cx="1697.3" cy="968.3" r="14.5"/></g>
<polyline stroke="#f00" stroke-width="7" points="272.5,1054.5 274.3,1056.3 276.1,1056.9 277.9,1059.2 279.6,1059.6 281.4,1061.9 283.2,1062.2 285.0,1064.4 287.0,1062.7 289.1,1062.8 291.1,1061.2 292.7,1060.5 294.4,1058.1 296.0,1057.4 297.2,1054.1 298.4,1053.2 299.6,1050.4 300.5,1049.6 301.4,1046.4 302.3,1045.9 303.2,1043.0 304.1,1042.5 305.0,1039.5 306.0,1038.8 306.9,1035.7 307.9,1034.6 308.9,1031.8 309.9,1030.7 310.6,1027.4 311.3,1026.4 312.0,1023.3 312.7,1022.5 313.4,1019.3 314.1,1018.3 314.8,1015.2 315.5,1013.8 317.1,1011.7 318.8,1011.5 320.4,1009.0 322.1,1008.6 323.8,1006.2 325.4,1006.0 327.1,1003.7 328.7,1003.5 330.0,1000.6 331.4,1000.1 332.7,997.5 334.1,996.9 335.4,993.8 336.8,993.4 338.1,990.2 339.5,989.4 340.8,986.2 342.2,984.9 343.5,981.4 344.9,980.3 346.0,977.1 347.1,975.7 348.2,972.5 349.1,971.6 350.0,968.0 350.9,967.1 352.0,963.7 353.2,962.5 354.3,959.0 354.9,958.2 355.5,955.0 356.1,954.2 356.7,950.7 357.3,950.0 357.9,946.8 358.5,945.7 360.7,944.7 362.9,945.9 365.1,944.5 367.3,945.9 369.5,944.7 371.7,945.6 373.9,944.5 377.1,944.6 379.1,942.1 381.2,941.4 382.4,938.8 383.6,937.7 384.8,934.9 386.0,934.2 387.4,931.5 388.7,930.5 390.1,927.4 391.4,926.3 392.8,923.2 394.1,922.2 395.0,918.8 396.0,918.3 396.9,914.8 397.8,914.0 398.7,911.0 399.6,910.0 400.6,906.8 401.5,906.3 402.6,903.4 403.7,902.5 404.8,899.9 405.9,899.0 407.0,896.3 408.1,895.8 409.2,893.0 410.3,892.0 411.4,889.0 412.4,887.9 413.5,884.7 414.6,884.2 415.6,880.8 416.7,880.2 418.1,877.1 419.4,876.5 420.8,873.7 422.1,873.1 423.5,870.0 424.8,869.8 426.0,866.8 427.2,866.4 428.5,863.7 429.7,863.0 431.7,861.6 433.7,862.1 435.7,861.0 437.6,861.4 439.6,860.2 441.6,860.7 443.6,859.5 445.6,859.7 447.4,858.2 449.2,858.1 451.1,856.4 452.9,856.4 454.7,854.5 456.6,855.1 458.4,853.2 460.2,853.2 461.6,850.7 462.9,850.2 464.3,847.7 465.6,846.8 467.0,843.2 468.3,842.5 469.6,839.4 471.0,838.3 472.3,835.5 473.7,834.2 475.0,831.0 476.4,829.9 477.8,827.3 479.1,826.5 480.5,823.8 481.8,823.6 483.2,821.1 484.5,820.6 485.9,818.1 487.2,817.5 488.6,814.6 490.5,815.1 492.5,812.6 494.4,812.7 496.3,810.7 498.2,810.6 500.1,808.2 502.1,808.8 504.0,806.1 506.1,806.9 508.1,805.1 510.1,807.5 512.1,806.6 514.1,808.0 516.1,805.7 517.8,806.4 519.5,803.5 521.2,803.8 522.9,801.4 524.6,801.6 526.3,799.4 528.0,799.2 529.7,797.1 531.4,797.1 533.5,795.1 535.7,796.2 537.8,794.0 539.9,795.0 542.0,792.4 544.2,793.8 546.3,791.6 548.5,793.6 550.8,793.4 553.0,795.3 555.2,795.1 557.0,797.5 558.9,796.9 560.7,799.8 563.0,798.4 565.3,800.2 567.5,798.7 569.8,800.3 572.1,799.3 574.4,801.2 576.5,799.2 578.6,800.6 580.8,798.8 582.9,799.8 585.0,798.1 587.2,798.7 589.5,796.4 591.7,797.4 593.9,795.0 596.1,796.2 598.3,794.6 600.6,796.4 602.8,795.1 605.1,795.9 607.3,794.8 609.6,796.1 611.8,794.1 614.1,795.3 616.3,793.8 618.6,795.5 620.8,793.2 623.0,794.1 625.2,792.3 627.3,793.0 629.5,791.7 631.7,792.6 633.9,790.3 636.1,792.7 638.3,791.8 640.6,794.3 642.8,793.6 645.0,795.6 647.3,794.4 649.5,795.7 651.8,794.8 654.0,796.2 656.2,795.1 658.5,796.6 660.7,795.6 662.9,797.3 665.1,796.4 667.3,798.5 669.6,797.7 671.8,799.7 674.0,798.5 676.2,800.7 677.5,800.6 678.9,803.8 680.2,804.0 681.6,807.0 682.9,807.4 684.3,810.4 685.6,811.2 687.0,814.1 688.4,814.7 690.4,815.6 692.5,813.9 694.5,814.9 696.5,812.8 698.5,813.6 700.5,811.7 702.6,812.7 704.6,810.5 706.6,811.1 708.6,809.2 710.6,809.8 712.7,807.9 714.7,808.6 716.7,806.3 718.7,807.1 720.7,804.7 722.9,806.0 725.2,803.8 727.4,804.7 729.6,802.7 731.6,804.0 733.6,802.3 735.6,803.7 737.6,802.2 739.7,803.5 741.7,801.7 743.7,803.4 745.7,801.5 747.7,803.3 749.9,801.4 752.1,802.4 754.3,800.3 756.4,801.9 758.6,800.2 760.8,800.8 763.0,799.3 765.2,800.7 767.4,799.9 769.7,801.2 771.9,800.2 774.1,802.1 776.6,801.0 779.2,803.2 781.7,802.6 782.8,806.1 783.9,806.7 784.9,810.0 786.0,810.0 787.1,813.4 788.1,813.8 789.2,817.3 790.3,817.8 792.3,820.1 794.2,818.8 796.2,820.8 798.2,820.3 800.2,822.3 802.1,821.6 804.1,823.3 806.1,822.8 807.2,822.5 808.3,819.4 809.5,818.8 810.6,815.6 811.7,814.9 813.1,812.2 814.5,811.9 815.9,808.8 817.3,808.2 819.3,806.8 821.3,808.7 823.3,806.8 825.3,808.3 827.4,807.2 829.4,808.2 831.4,806.9 833.4,808.4 835.5,807.0 837.7,807.9 839.9,806.0 842.0,807.6 844.1,805.9 846.3,806.6 848.5,804.9 850.6,806.3 852.2,806.3 853.7,809.2 855.3,809.8 856.8,812.7 858.4,812.7 860.6,812.1 862.9,809.0 865.2,810.5 867.4,808.5 869.7,809.6 872.0,807.9 874.2,808.9 876.5,807.3 878.6,808.6 880.6,807.0 882.7,808.1 884.8,806.1 886.8,807.3 888.9,806.0 891.0,806.9 893.0,805.3 895.1,806.1 896.4,806.7 897.8,809.2 899.1,809.8 900.5,812.4 901.8,812.8 903.9,813.9 906.0,812.2 908.0,813.1 910.1,811.6 912.2,812.4 914.3,811.1 916.3,811.7 918.4,810.4 920.5,811.3 922.2,810.8 924.0,813.2 925.7,813.0 927.4,815.8 929.2,815.4 930.9,817.8 932.7,817.3 934.4,819.8 936.1,819.3 937.9,821.9 939.6,821.6 941.1,821.6 942.6,818.3 944.1,818.4 944.6,814.7 945.0,814.2 945.5,810.4 946.0,809.6 946.5,806.1 946.9,804.9 947.4,801.8 949.4,802.3 951.4,800.5 953.3,801.4 955.3,799.9 957.3,800.4 959.2,798.5 961.2,800.6 963.2,797.1 964.7,798.1 966.1,794.7 967.6,795.3 969.1,791.6 970.5,792.3 972.0,788.8 973.5,789.4 975.0,785.0 976.5,786.9 978.0,782.2 978.9,786.4 979.7,785.5 980.6,790.2 981.4,789.9 982.3,793.6 982.5,793.9 982.6,798.4 982.8,798.1 983.0,802.4 983.2,802.4 983.4,806.5 983.5,806.9 983.7,810.9 984.6,810.8 985.4,814.7 986.3,815.1 987.2,818.7 988.0,818.6 988.9,822.9 989.1,822.4 989.3,827.3 989.5,826.5 989.6,831.6 989.8,830.6 990.0,835.5 990.2,835.5 990.4,840.5 990.6,839.9 990.7,844.4 990.9,843.5 991.1,847.8 991.3,847.5 991.4,852.9 991.6,851.9 991.8,856.9 992.0,855.8 992.1,860.4 992.3,860.3 992.5,864.9 992.6,864.1 992.8,869.4 992.9,868.3 993.1,873.4 993.2,872.4 993.4,877.6 993.5,876.8 993.7,881.3 993.8,881.7 994.0,885.4 994.3,885.5 994.6,889.6 994.9,889.3 995.1,894.4 995.4,893.9 995.7,898.8 996.0,898.1 996.3,902.9 997.2,902.8 998.1,906.8 999.1,905.5 1000.0,910.1 1000.9,909.3 1001.8,913.8 1002.7,913.4 1003.6,917.5 1004.6,916.7 1005.5,920.3 1006.4,920.3 1006.8,920.8 1007.3,916.4 1007.7,916.9 1008.1,911.7 1008.5,912.8 1009.0,908.4 1009.4,908.8 1009.8,904.2 1010.3,905.2 1010.7,900.3 1010.9,901.0 1011.1,896.6 1011.3,896.1 1011.5,892.1 1011.8,892.5 1012.0,887.8 1012.2,888.0 1012.4,883.8 1012.7,883.2 1013.0,879.3 1013.3,879.7 1013.6,874.7 1013.9,875.5 1014.3,871.0 1014.6,871.2 1014.9,866.6 1015.2,867.0 1015.5,862.8 1015.8,863.3 1016.0,858.6 1016.2,859.2 1016.3,853.6 1016.5,854.0 1016.7,850.0 1016.9,850.7 1017.1,845.3 1017.3,846.2 1017.4,841.9 1017.6,841.7 1017.8,837.0 1018.4,837.7 1018.9,833.4 1019.5,833.7 1020.1,829.6 1020.7,830.7 1021.2,826.1 1021.8,826.6 1022.5,821.4 1023.1,822.1 1023.8,816.6 1024.4,816.8 1024.6,812.0 1024.7,812.9 1024.9,808.8 1025.0,808.2 1025.2,804.1 1025.4,804.5 1025.5,800.2 1025.7,800.0 1025.8,796.0 1026.0,796.1 1026.2,795.4 1026.3,799.9 1026.5,799.7 1026.6,804.9 1026.8,804.5 1026.9,809.2 1027.1,808.0 1027.2,813.3 1027.4,812.7 1027.5,816.9 1027.7,816.7 1027.8,821.7 1028.0,820.6 1028.2,821.1 1028.3,816.8 1028.5,817.0 1028.6,813.2 1028.8,812.8 1028.9,808.4 1029.1,809.0 1029.2,804.3 1029.4,805.0 1029.5,801.0 1029.7,801.3 1029.8,797.1 1030.0,797.1 1030.2,796.3 1030.3,801.8 1030.5,800.7 1030.7,805.7 1030.8,804.7 1031.0,810.2 1031.2,809.3 1031.3,814.2 1031.5,814.0 1031.7,818.3 1031.8,817.7 1032.0,822.5 1032.2,817.5 1032.4,817.8 1032.6,813.9 1032.8,814.3 1033.0,809.6 1033.2,809.6 1033.4,805.2 1033.6,805.2 1033.8,800.6 1034.0,801.8 1034.2,801.0 1034.4,805.4 1034.7,805.0 1034.9,809.3 1035.1,808.9 1035.3,812.9 1035.6,813.1 1035.8,816.9 1036.0,816.3 1036.3,817.2 1036.5,812.9 1036.8,813.4 1037.1,807.8 1037.4,808.8 1037.6,804.6 1037.9,804.3 1038.2,800.5 1038.5,800.3 1038.7,796.3 1039.0,796.0 1040.3,792.2 1041.6,792.8 1042.9,788.0 1044.2,789.4 1045.5,785.0 1046.8,785.5 1048.1,781.3 1049.4,781.9 1050.4,781.6 1051.4,785.4 1052.4,785.4 1053.4,790.1 1054.4,789.4 1055.4,793.4 1056.4,792.6 1057.4,797.6 1058.4,796.8 1058.9,800.8 1059.4,800.8 1059.9,804.9 1060.4,804.4 1060.9,809.6 1061.4,807.8 1061.9,813.5 1062.4,812.8 1062.9,816.4 1063.7,815.9 1064.6,821.4 1065.4,820.1 1066.2,824.9 1067.1,824.5 1067.9,828.6 1068.8,827.3 1069.6,833.0 1071.8,829.4 1074.0,833.2 1076.2,830.1 1077.3,829.9 1078.5,825.7 1079.6,825.9 1081.2,821.5 1082.8,823.7 1084.4,818.8 1086.0,820.7 1087.6,816.0 1089.2,817.7 1090.8,813.6 1092.4,814.5 1094.1,813.3 1095.8,817.4 1097.6,815.7 1099.3,820.5 1101.0,819.0 1102.7,822.5 1104.4,821.7 1106.2,825.7 1107.9,823.8 1109.6,827.6 1110.6,823.8 1111.5,824.0 1112.5,819.0 1113.4,819.7 1114.4,815.3 1115.3,815.9 1116.3,811.5 1118.5,812.3 1120.8,808.7 1123.0,810.9 1124.6,808.6 1126.1,813.3 1127.7,811.4 1129.2,815.1 1130.8,814.2 1132.4,818.6 1133.9,816.3 1135.5,820.4 1136.3,816.5 1137.2,816.8 1138.0,812.0 1138.8,813.0 1139.7,808.7 1140.5,809.5 1141.3,804.1 1142.2,805.2 1143.0,801.5 1144.1,805.3 1145.2,804.6 1146.3,809.3 1147.4,808.4 1148.5,813.0 1149.7,811.3 1150.8,816.2 1151.9,815.5 1153.0,820.3 1154.1,818.9 1156.0,823.0 1157.9,821.2 1159.8,824.5 1161.7,822.8 1162.6,823.4 1163.5,818.1 1164.3,819.2 1165.2,814.6 1166.1,814.5 1167.6,813.6 1169.1,817.9 1170.6,815.9 1171.9,820.6 1173.1,820.1 1174.4,824.2 1175.7,823.0 1177.0,827.7 1178.2,827.7 1179.5,831.2 1179.7,827.0 1179.9,828.1 1180.0,822.3 1180.2,823.7 1180.4,818.0 1180.6,819.9 1180.8,814.7 1181.0,814.9 1181.2,809.9 1181.3,811.4 1181.5,806.8 1181.7,807.2 1183.4,805.7 1185.1,809.6 1186.7,808.6 1188.4,812.2 1189.5,812.3 1190.6,816.2 1191.7,815.8 1192.8,820.9 1194.0,819.9 1195.1,824.8 1196.2,823.7 1197.3,827.9 1197.9,823.0 1198.6,824.7 1199.2,819.7 1199.8,820.0 1200.4,815.8 1201.1,816.5 1201.7,811.5 1203.4,815.5 1205.1,814.4 1206.7,818.6 1208.4,817.0 1209.1,821.0 1209.8,819.9 1210.5,825.3 1211.2,824.7 1211.9,828.3 1212.7,828.5 1213.4,833.2 1214.1,832.1 1214.8,836.8 1215.5,835.2 1216.2,840.2 1216.9,835.9 1217.6,837.0 1218.3,831.5 1219.0,832.2 1219.6,827.4 1220.3,828.2 1221.0,823.9 1221.7,823.9 1222.4,819.4 1223.9,821.6 1225.4,816.7 1226.9,818.7 1228.4,814.5 1229.8,815.0 1231.3,811.1 1232.8,813.0 1234.3,807.6 1235.8,809.4 1237.3,805.6 1239.0,806.3 1240.7,802.0 1242.3,803.6 1244.0,799.0 1246.2,801.8 1248.5,798.3 1250.7,801.8 1251.5,800.2 1252.3,805.4 1253.1,804.5 1253.8,808.8 1254.6,808.3 1255.4,813.2 1256.2,812.5 1256.6,816.7 1256.9,816.1 1257.3,821.1 1257.7,821.4 1258.0,825.3 1258.4,825.2 1259.1,829.8 1259.8,828.5 1260.5,834.2 1261.2,832.2 1262.0,837.2 1262.7,837.1 1263.4,840.8 1264.1,840.3 1264.8,845.3 1265.5,844.2 1266.9,844.9 1268.3,840.9 1269.7,842.1 1271.1,837.3 1272.5,838.9 1274.0,833.8 1275.4,835.5 1276.8,831.4 1278.2,832.5 1279.6,827.8 1280.4,828.5 1281.3,823.9 1282.1,824.8 1282.9,820.2 1283.8,820.3 1284.6,816.2 1285.5,816.3 1286.3,811.5 1288.5,814.2 1290.7,810.7 1292.9,812.5 1293.9,811.1 1294.8,816.4 1295.8,815.8 1296.7,820.6 1297.7,819.1 1298.6,824.6 1299.6,823.6 1300.5,827.8 1301.4,826.6 1302.3,832.2 1303.2,830.4 1304.0,835.1 1304.9,835.0 1305.8,839.1 1306.7,839.1 1307.6,844.0 1308.5,842.5 1309.7,844.2 1310.9,839.4 1312.1,840.8 1313.3,836.0 1314.5,836.8 1315.7,832.3 1316.9,834.3 1318.1,829.7 1319.3,830.5 1320.5,825.8 1321.7,826.7 1322.9,822.7 1324.1,823.3 1325.8,819.6 1327.4,820.1 1329.1,815.8 1330.8,817.2 1333.0,815.3 1335.2,817.9 1337.4,816.6 1338.5,821.6 1339.7,821.2 1340.8,825.6 1341.9,825.7 1343.1,830.2 1344.3,828.7 1345.4,832.8 1346.6,832.7 1347.8,836.6 1349.0,835.6 1350.1,840.4 1351.3,839.7 1352.5,843.3 1354.1,839.4 1355.8,841.1 1357.4,837.5 1359.0,838.5 1360.7,834.2 1362.3,836.1 1363.9,832.2 1365.6,833.7 1367.2,829.9 1368.5,834.8 1369.9,832.8 1371.2,837.8 1372.6,837.3 1373.9,841.8 1375.2,837.3 1376.6,837.3 1377.9,832.9 1379.3,834.3 1380.6,829.4 1382.8,832.1 1385.1,828.6 1387.3,831.5 1388.2,831.0 1389.0,834.8 1389.9,834.4 1390.8,839.4 1391.6,837.8 1392.5,842.6 1393.3,842.0 1394.2,846.7 1395.6,842.6 1397.0,843.5 1398.4,839.9 1399.8,840.9 1401.2,836.1 1402.5,837.4 1403.9,833.6 1405.3,835.3 1406.7,830.0 1408.1,831.5 1409.5,828.0 1411.7,830.2 1414.0,825.5 1416.2,828.1 1418.4,826.6 1420.7,830.1 1422.9,827.7 1424.7,829.7 1426.6,825.1 1428.4,827.3 1430.2,823.3 1432.0,824.9 1433.8,820.9 1435.7,822.1 1437.5,817.8 1439.5,822.1 1441.6,820.0 1443.6,822.8 1445.7,821.1 1447.7,824.5 1449.8,822.5 1451.8,825.4 1453.6,824.7 1455.4,828.8 1457.1,826.6 1458.9,830.7 1460.7,829.7 1461.5,834.8 1462.3,834.2 1463.1,838.7 1463.8,837.9 1464.6,842.2 1465.4,841.1 1466.2,846.1 1468.4,843.9 1470.5,846.9 1472.7,844.7 1474.8,848.1 1477.0,845.8 1479.1,849.3 1481.3,847.2 1481.9,847.3 1482.4,843.0 1483.0,843.9 1483.5,839.5 1484.1,840.3 1484.6,834.9 1485.2,836.0 1485.7,831.6 1486.3,832.0 1486.8,827.8 1487.4,827.7 1489.6,824.5 1491.8,825.9 1494.1,822.7 1496.3,824.6 1498.5,821.5 1499.6,825.6 1500.7,825.0 1501.9,829.3 1503.0,827.7 1504.1,832.6 1504.5,832.3 1504.8,836.6 1505.2,835.9 1505.6,841.1 1505.9,840.1 1506.3,844.9 1506.7,843.0 1507.0,848.7 1507.4,847.2 1509.1,851.7 1510.8,850.4 1512.4,855.4 1514.1,853.8 1515.6,859.3 1517.0,858.1 1518.5,862.5 1520.0,860.6 1521.5,865.1 1522.9,864.7 1524.4,869.3 1524.8,864.6 1525.1,865.5 1525.5,860.5 1525.8,861.5 1526.2,856.7 1526.5,857.1 1526.9,851.8 1527.2,852.8 1527.6,848.7 1527.9,849.2 1528.3,844.6 1528.6,844.7 1529.0,840.8 1529.3,840.9 1529.7,836.0 1530.4,837.6 1531.2,832.3 1531.9,833.3 1532.6,828.7 1533.4,829.5 1534.1,825.3 1536.3,827.5 1538.6,824.0 1540.8,826.3 1543.1,821.9 1545.5,823.8 1547.8,819.3 1549.6,823.2 1551.4,821.4 1553.1,826.1 1554.9,824.3 1556.7,828.5 1557.8,827.4 1558.9,832.2 1560.1,830.5 1561.2,835.1 1562.3,833.9 1562.7,838.9 1563.1,838.6 1563.5,843.2 1563.9,842.7 1564.3,847.3 1564.7,846.4 1565.0,851.1 1565.4,849.5 1565.8,855.0 1566.2,853.8 1566.6,858.6 1567.0,858.6 1567.4,862.2 1569.3,859.4 1571.1,860.9 1573.0,857.1 1574.8,858.8 1576.7,854.5 1578.6,856.4 1580.4,853.3 1582.3,855.0 1582.6,850.6 1583.0,850.2 1583.3,846.2 1583.6,846.3 1583.9,842.2 1584.3,842.5 1584.6,837.9 1584.9,838.9 1585.3,834.4 1585.6,834.9 1586.3,830.1 1587.0,830.5 1587.7,825.6 1588.4,826.7 1589.1,822.7 1589.8,822.6 1590.5,818.2 1591.2,819.6 1592.1,814.2 1593.0,815.4 1594.0,811.1 1594.9,811.2 1595.8,807.0 1596.7,808.2 1597.6,807.7 1598.5,812.7 1599.4,812.0 1600.3,817.5 1601.2,816.1 1602.0,821.1 1602.8,820.4 1603.7,825.3 1604.5,825.3 1605.2,829.9 1605.8,829.4 1606.5,833.2 1607.2,832.5 1607.8,837.0 1608.5,836.6 1609.2,841.9 1609.8,840.8 1610.5,844.7 1612.2,840.9 1614.0,842.6 1615.7,838.4 1617.5,840.5 1619.2,836.4 1620.9,837.4 1622.7,833.8 1624.4,834.6 1626.2,830.6 1627.9,832.9 1628.7,827.5 1629.6,827.8 1630.4,823.1 1631.2,824.5 1632.1,819.4 1632.9,820.4 1633.8,815.2 1634.6,815.6 1635.9,815.1 1637.2,818.7 1638.6,818.3 1639.9,821.9 1641.2,820.6 1642.9,825.6 1644.6,823.8 1646.2,829.0 1647.9,827.9 1648.2,832.5 1648.6,831.7 1648.9,836.7 1649.2,835.6 1649.6,840.1 1649.9,839.4 1650.2,845.0 1650.5,843.9 1650.9,848.9 1651.2,848.2 1651.5,852.2 1651.8,852.2 1652.1,857.1 1652.4,855.6 1652.7,861.4 1653.0,860.6 1653.3,865.8 1653.6,864.9 1653.9,869.3 1654.2,868.5 1654.5,874.1 1655.3,872.8 1656.0,877.9 1656.8,876.3 1657.6,881.5 1658.4,880.3 1659.2,885.6 1659.9,884.1 1660.7,889.1 1661.1,888.2 1661.5,893.3 1661.9,892.7 1662.3,897.0 1663.7,896.5 1665.0,901.1 1666.4,900.4 1669.2,904.1 1672.0,903.2 1673.7,903.3 1675.3,898.8 1676.9,900.6 1678.5,897.1 1680.1,897.5 1680.6,893.7 1681.2,894.0 1681.7,888.6 1683.9,891.5 1686.1,887.7 1688.3,889.9 1690.4,887.1 1692.6,889.5 1694.8,886.1 1697.0,889.3 1699.0,884.3 1701.0,885.6 1703.0,881.5 1705.0,883.9 1707.0,879.8 1709.0,882.4 1711.0,880.2 1713.0,881.0"/>
<g fill="#f00" stroke="none"><rect x="260.0" y="1042.0" width="25" height="25"/><rect x="303.0" y="1001.0" width="25" height="25"/><rect x="346.0" y="932.9" width="25" height="25"/><rect x="389.0" y="893.0" width="25" height="25"/><rect x="432.9" y="847.0" width="25" height="25"/><rect x="475.9" y="802.8" width="25" height="25"/><rect x="518.9" y="784.0" width="25" height="25"/><rect x="561.9" y="787.8" width="25" height="25"/><rect x="606.1" y="782.0" width="25" height="25"/><rect x="648.2" y="783.8" width="25" height="25"/><rect x="692.1" y="798.9" width="25" height="25"/><rect x="735.2" y="789.8" width="25" height="25"/><rect x="777.8" y="806.0" width="25" height="25"/><rect x="820.9" y="795.3" width="25" height="25"/><rect x="864.0" y="795.7" width="25" height="25"/><rect x="908.0" y="798.0" width="25" height="25"/><rect x="950.7" y="786.0" width="25" height="25"/><rect x="993.9" y="908.8" width="25" height="25"/><rect x="1036.8" y="768.1" width="25" height="25"/><rect x="1080.0" y="801.0" width="25" height="25"/><rect x="1123.0" y="806.7" width="25" height="25"/><rect x="1167.0" y="817.8" width="25" height="25"/><rect x="1209.9" y="808.6" width="25" height="25"/><rect x="1253.0" y="833.0" width="25" height="25"/><rect x="1296.0" y="831.5" width="25" height="25"/><rect x="1340.0" y="829.8" width="25" height="25"/><rect x="1381.7" y="833.0" width="25" height="25"/><rect x="1425.0" y="807.1" width="25" height="25"/><rect x="1468.8" y="836.0" width="25" height="25"/><rect x="1511.9" y="855.1" width="25" height="25"/><rect x="1554.9" y="848.9" width="25" height="25"/><rect x="1598.0" y="831.2" width="25" height="25"/><rect x="1642.0" y="860.0" width="25" height="25"/><rect x="1684.5" y="875.0" width="25" height="25"/></g>
</g>
<rect x="1338" y="339" width="334" height="297" fill="#fff" stroke="#000" stroke-width="2"/>
<g shape-rendering="crispEdges">
<rect x="1362" y="397" width="125" height="7" fill="#000"/>
<rect x="1362" y="465" width="125" height="7" fill="#0f0"/>
<rect x="1362" y="533" width="125" height="7" fill="#f00"/>
<rect x="1362" y="601" width="125" height="7" fill="#00f"/>
<rect x="1411" y="523" width="27" height="27" fill="#f00"/>
</g>
<circle cx="1424.7" cy="468.5" r="14.5" fill="#0f0"/>
<g fill="#00f"><polygon points="1424.5,588.0 1429.0,598.4 1440.2,599.4 1431.7,606.8 1434.2,617.8 1424.5,612.1 1414.8,617.8 1417.3,606.8 1408.8,599.4 1420.0,598.4"/></g>
<g font-family="Liberation Sans, Arial, sans-serif" font-size="56" fill="#000">
<text transform="translate(1502 419) scale(1 1.025)">316L</text>
<text transform="translate(1502 487) scale(1 1.025)">ZrC</text>
<text transform="translate(1502 555) scale(1 1.025)">TiC</text>
<text transform="translate(1502 623) scale(1 1.025)">TiNbC</text>
</g>
</svg></body></html>
